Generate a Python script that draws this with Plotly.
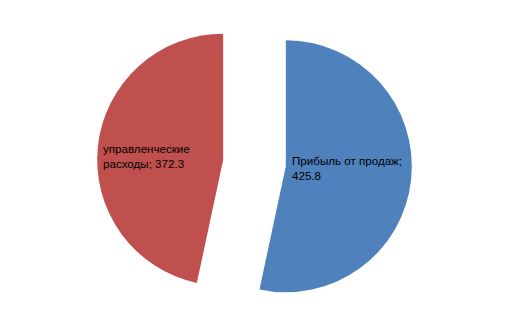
import plotly.graph_objects as go

labels = ["Прибыль от продаж", "управленческие расходы"]
values = [425.8, 372.3]
colors = ["#4F81BD", "#C0504D"]
label_lines = ["Прибыль от продаж;<br>425.8", "управленческие<br>расходы; 372.3"]

fig = go.Figure(go.Pie(
    labels=labels, values=values, sort=False, direction="clockwise", rotation=0,
    marker=dict(colors=colors, line=dict(width=0)),
    pull=[0.25, 0.25], textinfo="none", hoverinfo="label+value",
    domain=dict(x=[0, 1], y=[1 - 320.5 / 327, 1 - 5.5 / 327]),
    showlegend=False,
))

pos = [(290 / 509, 1 - 168 / 327), (101 / 509, 1 - 156 / 327)]
for (x, y), t in zip(pos, label_lines):
    fig.add_annotation(x=x, y=y, xref="paper", yref="paper", text=t, showarrow=False,
                       xanchor="left", yanchor="middle", align="left",
                       font=dict(family="Liberation Sans, Arial", size=11.6, color="black"))

fig.update_layout(width=509, height=327, margin=dict(l=0, r=0, t=0, b=0),
                  paper_bgcolor="white", plot_bgcolor="white")
fig.write_html("out.html")
